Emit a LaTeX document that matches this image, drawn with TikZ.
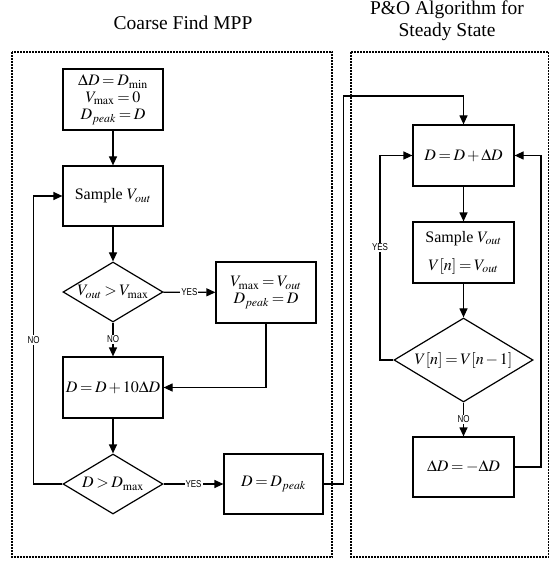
\documentclass[tikz,border=0pt]{standalone}
\usepackage{mathptmx}
\usepackage{fontspec}
\setmainfont{Liberation Serif}
\newfontfamily\lblfont[FakeStretch=0.8]{Liberation Sans}
\usetikzlibrary{shapes.geometric, arrows.meta, positioning, calc}
\thickmuskip=3mu plus 2mu\relax
\medmuskip=2mu plus 1mu\relax

\begin{document}
\begin{tikzpicture}[x=1pt, y=-1pt,
    box/.style={draw, line width=1.2pt, minimum width=100pt, minimum height=61pt,
        inner sep=1pt, align=center, font=\fontsize{16}{17}\selectfont},
    decision/.style={draw, diamond, line width=1.2pt, aspect=1.66, inner sep=0pt,
        minimum width=100pt, minimum height=60pt, font=\fontsize{16}{17}\selectfont},
    flow/.style={line width=1.2pt, -{Triangle[length=9pt, width=8pt]}},
    lbl/.style={fill=white, inner sep=1pt, font=\lblfont\fontsize{10}{12}\selectfont},
    region/.style={line width=2pt, dash pattern=on 2pt off 1pt},
    title/.style={align=center, font=\fontsize{19.5}{22}\selectfont}]
            \useasboundingbox (0,0) rectangle (548,561);

            % Dashed regions and titles
            \draw[region] (11.5,52) rectangle (332,557);
            \draw[region] (351,52) rectangle (549,557);
            \node[title] (coarseTitle) at (183,23) {Coarse Find MPP};
            \node[title] (poTitle) at (447,21) {P\&O Algorithm for\\Steady State};

            % Coarse search
            \node[box] (init) at (113,99.5) {$\Delta D = D_{\min}$\\$V_{\max} = 0$\\$D_{peak} = D$};
            \node[box, minimum height=60pt] (sampleA) at (113,196) {Sample $V_{out}$};
            \node[decision] (checkV) at (113,292) {$V_{out} > V_{\max}$};
            \node[box] (keepMax) at (266,292.5) {$V_{\max} = V_{out}$\\$D_{peak} = D$};
            \node[box] (stepUp) at (113,387.5) {$D = D + 10\Delta D$};
            \node[decision] (checkD) at (113,484) {$D > D_{\max}$};
            \node[box, minimum width=99pt, minimum height=60pt] (setPeak) at (273.5,484) {$D = D_{peak}$};

            % P&O loop
            \node[box, minimum width=101pt] (perturb) at (463.5,155.5) {$D = D + \Delta D$};
            \node[box, minimum width=101pt] (sampleB) at (463.5,252.5) {Sample $V_{out}$\\[11pt]$V[n] = V_{out}$};
            \node[decision, aspect=1.65, minimum width=139pt, minimum height=84pt] (checkN) at (463.5,360) {$V[n] = V[n-1]$};
            \node[box, minimum width=101pt, minimum height=60pt] (flip) at (463.5,467) {$\Delta D = -\Delta D$};

            % Corner points of the loops
            \coordinate (noLoop) at (33.5,484);
            \coordinate (jog) at (343.5,96);
            \coordinate (yesLoop) at (380,360);
            \coordinate (backLoop) at (541,467);

            % Connectors
            \draw[flow] (init) -- (sampleA);
            \draw[flow] (sampleA) -- (checkV);
            \draw[flow] (checkV) -- node[lbl] {YES} (keepMax);
            \draw[flow] (checkV) -- node[lbl] {NO} (stepUp);
            \draw[flow] (keepMax.south) |- (stepUp.east);
            \draw[flow] (stepUp) -- (checkD);
            \draw[flow] (checkD.west) -- (noLoop) -- node[lbl] {NO} (noLoop |- sampleA.west) -- (sampleA.west);
            \draw[flow] (checkD) -- node[lbl] {YES} (setPeak);
            \draw[flow] (setPeak.east) -| (jog) -| (perturb.north);

            \draw[flow] (perturb) -- (sampleB);
            \draw[flow] (sampleB) -- (checkN);
            \draw[flow] (checkN) -- node[lbl] {NO} (flip);
            \draw[flow] (flip.east) -- (backLoop) |- (perturb.east);
            \draw[flow] (checkN.west) -- (yesLoop) -- node[lbl, pos=0.55] {YES} (yesLoop |- perturb.west) -- (perturb.west);
        \end{tikzpicture}
\end{document}
